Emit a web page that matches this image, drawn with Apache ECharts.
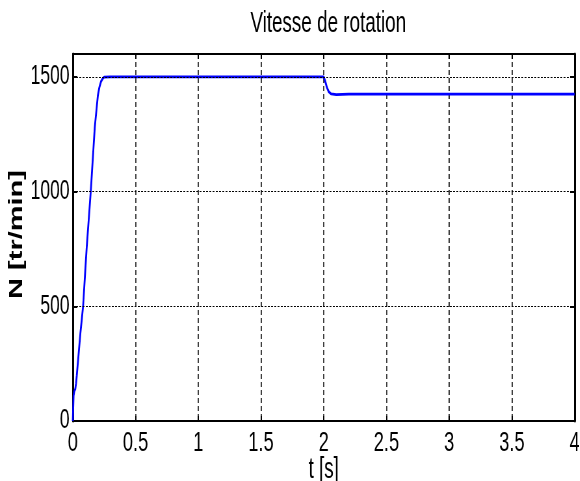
<!DOCTYPE html>
<html>
<head>
<meta charset="utf-8">
<script src="https://cdn.jsdelivr.net/npm/echarts@6/dist/echarts.min.js"></script>
<style>
  html, body { margin: 0; padding: 0; background: #fff; overflow: hidden; width: 580px; height: 481px; }
  /* The figure is drawn wide and squeezed horizontally, giving the condensed lettering of the original plot */
  #chart { width: 892px; height: 481px; transform: scaleX(0.65); transform-origin: 0 0; }
</style>
</head>
<body>
<div id="chart"></div>
<script>
// Rotor speed response: start-up ramp, then load step at t = 2 s
const timeS = [0, 0.006, 0.012, 0.02, 0.026, 0.032, 0.042, 0.06, 0.082, 0.11, 0.143, 0.175, 0.2, 0.212, 0.225, 0.238, 0.25, 0.26, 0.3, 1.0, 2.0, 2.01, 2.025, 2.04, 2.06, 2.1, 2.2, 3.0, 4.0];
const speedN = [0, 110, 130, 140, 165, 200, 265, 380, 500, 750, 1000, 1280, 1420, 1455, 1480, 1493, 1499, 1500, 1500, 1500, 1500, 1485, 1455, 1435, 1426, 1423, 1425, 1425, 1425];
const xTicks = [0, 0.5, 1, 1.5, 2, 2.5, 3, 3.5, 4];
const yTicks = [0, 500, 1000, 1500];

const FONT = '"Liberation Sans", Arial, sans-serif';

const chart = echarts.init(document.getElementById('chart'), null, { renderer: 'canvas' });

const hLine = { show: true, onZero: false, lineStyle: { color: '#000', width: 2 } };
const vLine = { show: true, onZero: false, lineStyle: { color: '#000', width: 3 } };
const xTick = { show: true, inside: true, length: 5, lineStyle: { color: '#000', width: 2 } };
const yTick = { show: true, inside: true, length: 7, customValues: yTicks, lineStyle: { color: '#000', width: 2 } };

chart.setOption({
  animation: false,
  backgroundColor: '#fff',
  title: {
    text: 'Vitesse de rotation',
    left: 500, top: 4, textAlign: 'center',
    textStyle: { fontFamily: FONT, fontSize: 29, fontWeight: 'normal', color: '#000' }
  },
  grid: { left: 112, right: 8, top: 54, bottom: 60, outerBoundsMode: 'none' },
  xAxis: [{
    type: 'value', min: 0, max: 4, interval: 0.5,
    axisLine: hLine, axisTick: xTick,
    splitLine: { show: true, lineStyle: { color: '#000', width: 1.5, type: [5, 3] } },
    axisLabel: {
      fontFamily: FONT, fontSize: 28, color: '#000', margin: 8,
      formatter: v => xTicks.includes(v) ? String(v) : ''
    },
    name: 't [s]', nameLocation: 'middle', nameGap: 34, nameMoveOverlap: false,
    nameTextStyle: { fontFamily: FONT, fontSize: 29, color: '#000' }
  }, {
    type: 'value', position: 'top', min: 0, max: 4, interval: 0.5,
    axisLine: hLine, axisTick: xTick, axisLabel: { show: false }, splitLine: { show: false }
  }],
  yAxis: [{
    type: 'value', min: 0, max: 1600,
    axisLine: vLine, axisTick: yTick, splitLine: { show: false },
    axisLabel: {
      fontFamily: FONT, fontSize: 27, color: '#000', margin: 5,
      customValues: yTicks, formatter: v => String(v)
    },
    name: 'N [tr/min]', nameLocation: 'middle', nameGap: 72, nameRotate: 90, nameMoveOverlap: false,
    nameTextStyle: { fontFamily: FONT, fontSize: 29, fontWeight: 'bold', color: '#000', padding: [0, 0, 0, 6] }
  }, {
    type: 'value', position: 'right', min: 0, max: 1600,
    axisLine: vLine, axisTick: yTick,
    axisLabel: { show: false }, splitLine: { show: false }
  }],
  series: [{
    type: 'line',
    data: timeS.map((t, i) => [t, speedN[i]]),
    showSymbol: false,
    lineStyle: { color: '#0000ff', width: 2.8 },
    markLine: {
      silent: true, symbol: 'none', label: { show: false },
      lineStyle: { color: '#000', width: 1, type: [3, 2] },
      data: yTicks.filter(v => v > 0).map(v => ({ yAxis: v }))
    },
    z: 3
  }]
});
</script>
</body>
</html>
